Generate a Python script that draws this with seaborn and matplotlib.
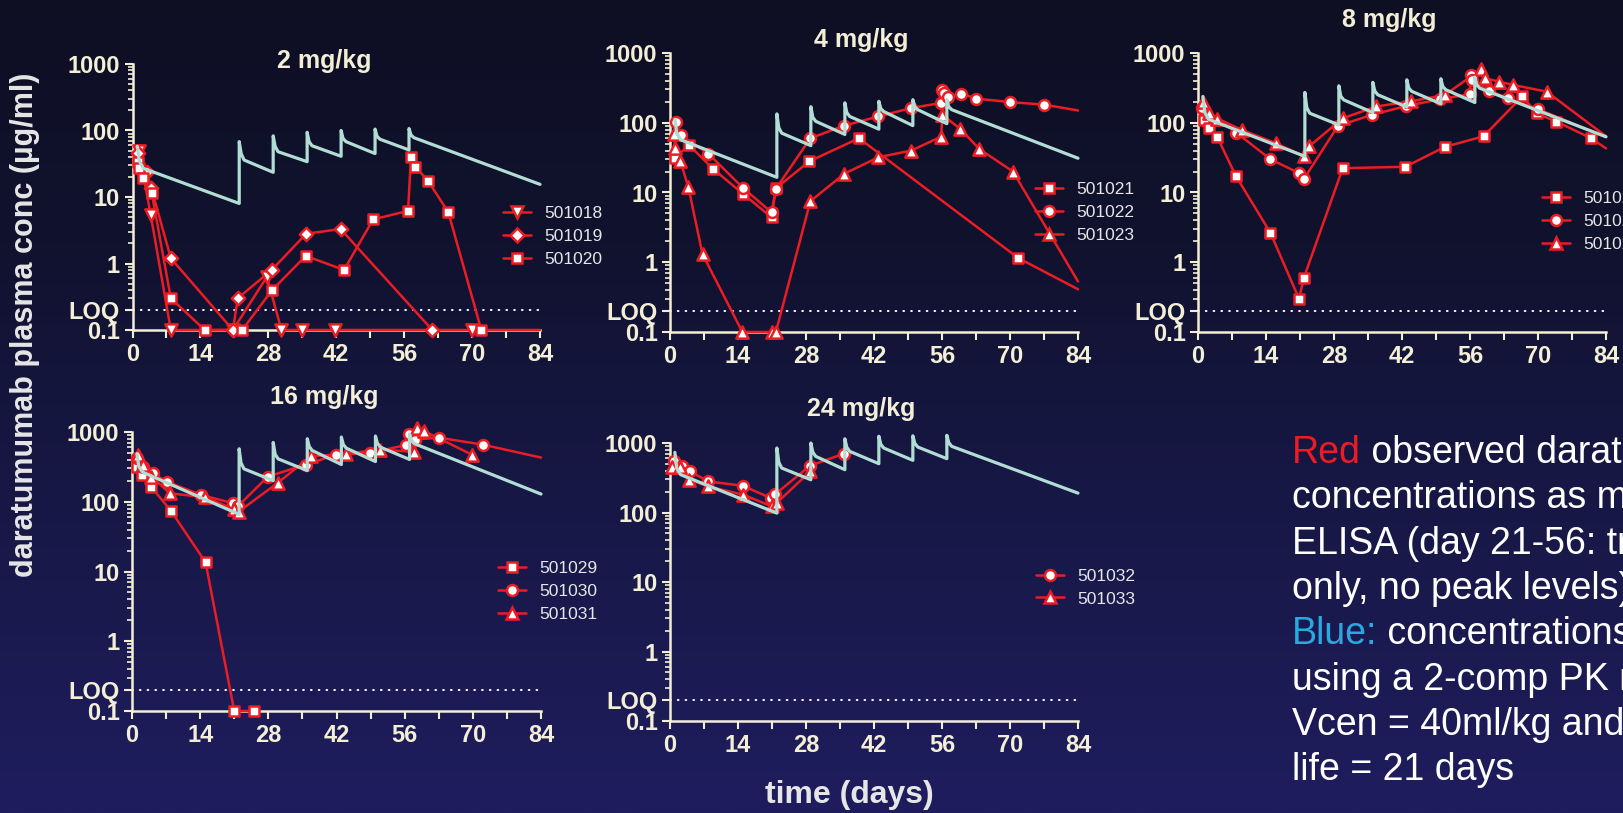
import numpy as np
import seaborn as sns
import matplotlib.pyplot as plt
from matplotlib.lines import Line2D
from matplotlib.ticker import LogLocator, NullFormatter

W, H = 1623, 813
RED = '#ec1c24'
TEAL = '#b2ddd4'
CREAM = '#f3efd6'
LIGHT = '#e6e6e6'
BLUE = '#29a9e0'

# simulated 2-comp PK curves
model_days = [1, 1.4, 2.2, 22, 22, 22.4, 23, 29, 29, 29.4, 30, 36, 36, 36.4, 37,
              43, 43, 43.4, 44, 50, 50, 50.4, 51, 57, 57, 57.4, 58, 84]
model_2 = [58, 35, 27, 8, 68, 45, 36, 23.5, 83, 58, 48, 34, 94, 68, 59, 41,
           100, 76, 68, 45, 105, 82, 74, 51, 107, 86, 78, 15.5]
model_4 = [112, 70, 57, 16.5, 134, 85, 71, 47, 170, 120, 105, 68, 193, 140, 123, 81,
           203, 160, 145, 91, 214, 170, 154, 97, 214, 170, 154, 31]
model_8 = [238, 140, 112, 33, 272, 165, 137, 93, 339, 240, 213, 140, 380, 285, 252, 168,
           413, 315, 282, 187, 428, 330, 298, 195, 452, 350, 313, 63]
model_16 = [490, 320, 265, 66, 575, 360, 296, 201, 708, 480, 412, 280, 800, 620, 544, 342,
            847, 660, 587, 377, 876, 690, 607, 404, 940, 760, 680, 129]
model_24 = [733, 430, 350, 98, 847, 530, 436, 296, 1000, 740, 642, 413, 1150, 870, 758, 504,
            1250, 960, 847, 563, 1270, 990, 876, 595, 1290, 1010, 895, 190]

# observed concentrations per animal
d_501018 = [1.3, 3.75, 7.9, 20.7, 27.7, 30.7, 35, 41.7, 70, 84]
c_501018 = [50, 5.4, 0.1, 0.1, 0.63, 0.1, 0.1, 0.1, 0.1, 0.1]
d_501019 = [1.2, 2.9, 3.9, 7.9, 20.7, 21.7, 28.7, 35.8, 42.9, 61.8]
c_501019 = [46, 24, 13.5, 1.2, 0.1, 0.3, 0.8, 2.8, 3.3, 0.1]
d_501020 = [1.2, 1.4, 2.2, 3.95, 7.9, 14.9, 22.6, 28.8, 35.7, 43.6, 49.6, 56.8, 57.4, 58.3, 60.9, 65.1, 71.9]
c_501020 = [34, 27, 19, 11.6, 0.3, 0.1, 0.1, 0.4, 1.3, 0.8, 4.6, 6.2, 40, 28.6, 17.6, 5.9, 0.1]

d_501021 = [1.0, 3.9, 8.8, 15, 20.9, 21.8, 28.7, 38.9, 71.7, 84]
c_501021 = [31, 48, 22, 9.6, 4.4, 11.5, 28, 60, 1.15, 0.41]
d_501022 = [1.24, 2.26, 7.9, 15, 20.9, 21.8, 28.9, 35.9, 42.9, 49.7, 55.8, 56.1, 56.4, 57.2, 60, 63, 69.9, 77, 84]
c_501022 = [101, 66, 36, 11.7, 5.2, 11.3, 60, 91, 123, 163, 192, 297, 270, 233, 262, 222, 198, 182, 150]
d_501023 = [0.9, 1.1, 2.1, 3.8, 6.7, 14.9, 20.9, 21.8, 28.9, 35.9, 42.9, 49.7, 55.8, 56.1, 59.8, 63.7, 70.6, 84]
c_501023 = [70, 43, 28.6, 11.8, 1.3, 0.1, 0.1, 0.1, 7.5, 18.6, 32, 40, 63, 130, 81, 42, 20, 0.53]

d_501024 = [1.2, 2.3, 4.0, 7.75, 14.9, 20.8, 21.8, 29.8, 42.7, 50.8, 58.8, 66.8, 69.7, 73.8, 80.9, 84]
c_501024 = [109, 83, 62, 17.5, 2.65, 0.30, 0.60, 22.3, 23.4, 45, 64, 240, 136, 104, 60, 43]
d_501025 = [0.9, 7.9, 14.9, 20.8, 21.8, 28.8, 35.8, 42.9, 49.9, 55.9, 56.2, 56.5, 60, 63.9, 69.9, 84]
c_501025 = [165, 72, 30, 19, 15.6, 90, 130, 174, 218, 256, 484, 410, 285, 224, 158, 62]
d_501026 = [1.0, 2.3, 4.0, 9.0, 16, 21.9, 22.9, 29.8, 36.7, 43.8, 50.8, 58.3, 59.1, 61.9, 64.9, 71.8, 84]
c_501026 = [200, 138, 115, 79, 51, 33, 46, 116, 171, 203, 250, 585, 434, 390, 348, 279, 64]

d_501029 = [1.0, 2.0, 3.9, 8.0, 15.1, 21, 25]
c_501029 = [318, 240, 165, 74, 13.6, 0.1, 0.1]
d_501030 = [1.1, 2.2, 4.25, 7.1, 14.2, 20.8, 21.8, 27.9, 35.7, 41.8, 48.8, 56.3, 56.9, 58.2, 63, 72, 84]
c_501030 = [420, 313, 256, 195, 125, 95, 87, 229, 342, 470, 500, 650, 950, 780, 830, 660, 430]
d_501031 = [1.3, 2.3, 4.0, 7.8, 15, 21.0, 21.9, 29.9, 36.8, 43.9, 51, 57.9, 58.5, 60, 69.9]
c_501031 = [468, 337, 229, 132, 116, 78, 72, 186, 450, 486, 560, 520, 1150, 1030, 470]

d_501032 = [0.9, 2.5, 4.1, 7.9, 15, 20.8, 21.7, 28.8, 35.8]
c_501032 = [544, 470, 390, 280, 242, 161, 184, 470, 702]
d_501033 = [0.4, 2.1, 4.0, 7.8, 15.1, 21, 22, 28.9]
c_501033 = [450, 450, 296, 238, 180, 122, 138, 392]

obs = {
    '501018': (d_501018, c_501018, 'v'), '501019': (d_501019, c_501019, 'D'),
    '501020': (d_501020, c_501020, 's'), '501021': (d_501021, c_501021, 's'),
    '501022': (d_501022, c_501022, 'o'), '501023': (d_501023, c_501023, '^'),
    '501024': (d_501024, c_501024, 's'), '501025': (d_501025, c_501025, 'o'),
    '501026': (d_501026, c_501026, '^'), '501029': (d_501029, c_501029, 's'),
    '501030': (d_501030, c_501030, 'o'), '501031': (d_501031, c_501031, '^'),
    '501032': (d_501032, c_501032, 'o'), '501033': (d_501033, c_501033, '^'),
}
msize = {'s': 56, 'o': 62, '^': 78, 'v': 78, 'D': 46}

panels = [
    ('2 mg/kg', model_2, ['501018', '501019', '501020'], (132.5, 540, 64, 330), (324, 61), (503, 236.5)),
    ('4 mg/kg', model_4, ['501021', '501022', '501023'], (670, 1078, 53, 332), (861, 40), (1035, 212.5)),
    ('8 mg/kg', model_8, ['501024', '501025', '501026'], (1198, 1606, 53, 332), (1389, 20), (1542, 221.5)),
    ('16 mg/kg', model_16, ['501029', '501030', '501031'], (132, 541, 432, 711), (324, 397), (498, 591.5)),
    ('24 mg/kg', model_24, ['501032', '501033'], (670, 1078, 443, 721), (861, 409), (1036, 587.5)),
]

sns.set_style('ticks')
plt.rcParams['font.family'] = ['Liberation Sans', 'DejaVu Sans']
plt.rcParams['axes.facecolor'] = 'none'

fig = plt.figure(figsize=(W / 100, H / 100), dpi=100)

# dark navy gradient background
bg = fig.add_axes([0, 0, 1, 1], zorder=-10)
yy = np.linspace(0, 1, 400)
stops = [0, 0.3, 0.5, 1]
cols = np.array([[14, 15, 35], [17, 18, 46], [21, 22, 62], [31, 29, 94]]) / 255
grad = np.stack([np.interp(yy, stops, cols[:, k]) for k in range(3)], axis=-1)[:, None, :]
bg.imshow(grad, aspect='auto', extent=[0, 1, 0, 1], origin='upper')
bg.axis('off')


def fx(px):
    return px / W


def fy(py):
    return 1 - py / H


for title, model, subjects, (x0, x1, yt, yb), (tx, ty), (lx, ly) in panels:
    ax = fig.add_axes([fx(x0), fy(yb), (x1 - x0) / W, (yb - yt) / H])
    ax.set_yscale('log')
    ax.set_xlim(0, 84)
    ax.set_ylim(0.1, 1000)

    ax.plot([0, 84], [0.2, 0.2], color='white', lw=1.4, ls=(0, (0.4, 3.6)),
            dash_capstyle='round', zorder=2)

    handles = []
    for s in subjects:
        d, c, m = obs[s]
        sns.lineplot(x=d, y=c, ax=ax, sort=False, estimator=None, errorbar=None,
                     color=RED, lw=1.8, clip_on=False, zorder=3)
        keep = [i for i, t in enumerate(d) if t < 84]
        sns.scatterplot(x=[d[i] for i in keep], y=[c[i] for i in keep], ax=ax,
                        marker=m, s=msize[m], color='white', edgecolor=RED,
                        linewidth=1.8, clip_on=False, zorder=4)
        handles.append(Line2D([], [], color=RED, lw=1.8, marker=m,
                              markersize=np.sqrt(msize[m]), mfc='white',
                              mec=RED, mew=1.8, label=s))

    sns.lineplot(x=model_days, y=model, ax=ax, sort=False, estimator=None,
                 errorbar=None, color=TEAL, lw=2.3, clip_on=False, zorder=5)

    ax.set_yticks([0.1, 0.2, 1, 10, 100, 1000],
                  labels=['0.1', 'LOQ', '1', '10', '100', '1000'], fontweight='bold')
    ax.yaxis.set_minor_locator(LogLocator(base=10, subs=np.arange(2, 10)))
    ax.yaxis.set_minor_formatter(NullFormatter())
    ax.set_xticks(range(0, 85, 7),
                  labels=[str(t) if t % 14 == 0 else '' for t in range(0, 85, 7)],
                  fontweight='bold')
    ax.tick_params(axis='both', which='major', colors=CREAM, width=1.5, length=6,
                   labelsize=17, pad=3)
    ax.tick_params(axis='y', which='minor', colors=CREAM, width=1.2, length=3.5)
    for side in ['top', 'right']:
        ax.spines[side].set_visible(False)
    for side in ['left', 'bottom']:
        ax.spines[side].set_color(CREAM)
        ax.spines[side].set_linewidth(1.8)
    ax.set_xlabel('')
    ax.set_ylabel('')

    fig.text(fx(tx), fy(ty), title, ha='center', va='center', fontsize=18,
             fontweight='bold', color=CREAM)

    leg = ax.legend(handles=handles, loc='center left', bbox_to_anchor=(fx(lx), fy(ly)),
                    bbox_transform=fig.transFigure, frameon=False, fontsize=12.5,
                    handlelength=1.6, handletextpad=0.8, labelspacing=0.45,
                    borderpad=0, borderaxespad=0, labelcolor=LIGHT)

fig.text(fx(25), fy(325), 'daratumumab plasma conc (\u00b5g/ml)', rotation=90,
         ha='center', va='center', fontsize=22, fontweight='bold', color=LIGHT)
fig.text(fx(849), fy(795), 'time (days)', ha='center', va='center', fontsize=23,
         fontweight='bold', color=LIGHT)

# explanatory note on the right (runs off the slide edge)
note = [
    ('Red', RED, ' observed daratumumab'),
    ('', None, 'concentrations as measured by'),
    ('', None, 'ELISA (day 21-56: trough'),
    ('', None, 'only, no peak levels)'),
    ('Blue:', BLUE, ' concentrations simulated'),
    ('', None, 'using a 2-comp PK model with'),
    ('', None, 'Vcen = 40ml/kg and half-'),
    ('', None, 'life = 21 days'),
]
nx = 1292
fig.canvas.draw()
renderer = fig.canvas.get_renderer()
for k, (lead, lc, rest) in enumerate(note):
    by = 463 + k * 45.3
    x_rest = nx
    if lead:
        t1 = fig.text(fx(nx), fy(by), lead, color=lc, fontsize=27, va='baseline', ha='left')
        x_rest = t1.get_window_extent(renderer).x1
    fig.text(fx(x_rest), fy(by), rest, color='white', fontsize=27, va='baseline', ha='left')

fig.savefig('out.png', dpi=100)
